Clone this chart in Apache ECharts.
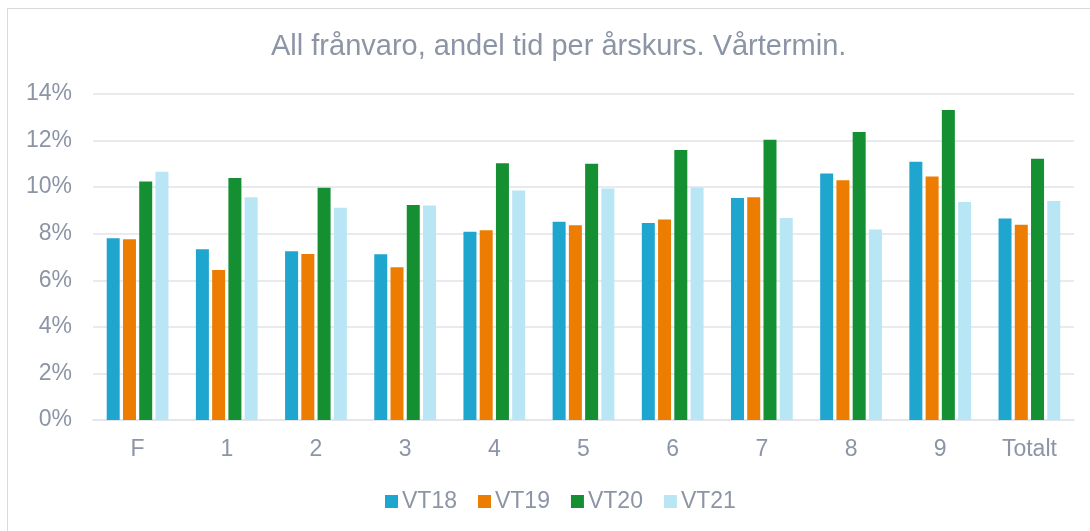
<!DOCTYPE html>
<html>
<head>
<meta charset="utf-8">
<script src="https://cdn.jsdelivr.net/npm/echarts@6/dist/echarts.min.js"></script>
<style>
  html, body { margin: 0; padding: 0; background: #fff; }
  #wrap { position: relative; width: 1090px; height: 531px; }
  #chart { width: 1090px; height: 531px; }
  #frame { position: absolute; left: 7px; top: 8px; width: 1100px; height: 540px;
           border: 1px solid #d9d9d9; pointer-events: none; }
</style>
</head>
<body>
<div id="wrap">
  <div id="chart"></div>
  <div id="frame"></div>
</div>
<script>
// årskurser
const categories = ['F', '1', '2', '3', '4', '5', '6', '7', '8', '9', 'Totalt']
// andel frånvaro i procent
const vt18 = [7.81, 7.33, 7.25, 7.12, 8.08, 8.51, 8.46, 9.53, 10.59, 11.09, 8.65]
const vt19 = [7.76, 6.44, 7.13, 6.56, 8.15, 8.36, 8.61, 9.57, 10.30, 10.46, 8.38]
const vt20 = [10.24, 10.39, 9.97, 9.23, 11.03, 11.00, 11.59, 12.04, 12.37, 13.31, 11.22]
const vt21 = [10.66, 9.57, 9.11, 9.21, 9.86, 9.94, 9.98, 8.68, 8.18, 9.36, 9.41]
const seriesNames = ['VT18', 'VT19', 'VT20', 'VT21']
const colors = ['#1fa6cf', '#ec7d00', '#148f32', '#b8e6f4']

const textColor = '#8c95a5'
const font = 'Liberation Sans, Arial, sans-serif'

const chart = echarts.init(document.getElementById('chart'))

const series = [vt18, vt19, vt20, vt21].map((data, i) => ({
  name: seriesNames[i],
  type: 'bar',
  data,
  barWidth: 13,
  barGap: '25%',
  itemStyle: { color: colors[i] }
}))

chart.setOption({
  animation: false,
  color: colors,
  title: {
    text: 'All frånvaro, andel tid per årskurs. Vårtermin.',
    left: 266,
    top: 27,
    textStyle: { color: textColor, fontSize: 29, fontWeight: 'normal', fontFamily: font }
  },
  legend: {
    data: seriesNames,
    left: 380,
    top: 485,
    itemWidth: 13,
    itemHeight: 13,
    itemGap: 21,
    icon: 'rect',
    textStyle: { color: textColor, fontSize: 23, fontFamily: font, padding: [0, 0, 0, -1] }
  },
  grid: { left: 93, right: 16, top: 94, bottom: 111 },
  xAxis: {
    type: 'category',
    data: categories,
    axisTick: { show: false },
    axisLine: { lineStyle: { color: '#e0e3e7', width: 1.5 } },
    axisLabel: { color: textColor, fontSize: 23, fontFamily: font, margin: 18 }
  },
  yAxis: {
    type: 'value',
    min: 0,
    max: 14,
    interval: 2,
    axisLine: { show: false },
    axisTick: { show: false },
    splitLine: { lineStyle: { color: '#e0e3e7', width: 1.5 } },
    axisLabel: {
      color: textColor, fontSize: 23, fontFamily: font, margin: 21,
      formatter: v => v + '%'
    }
  },
  series
})
</script>
</body>
</html>
